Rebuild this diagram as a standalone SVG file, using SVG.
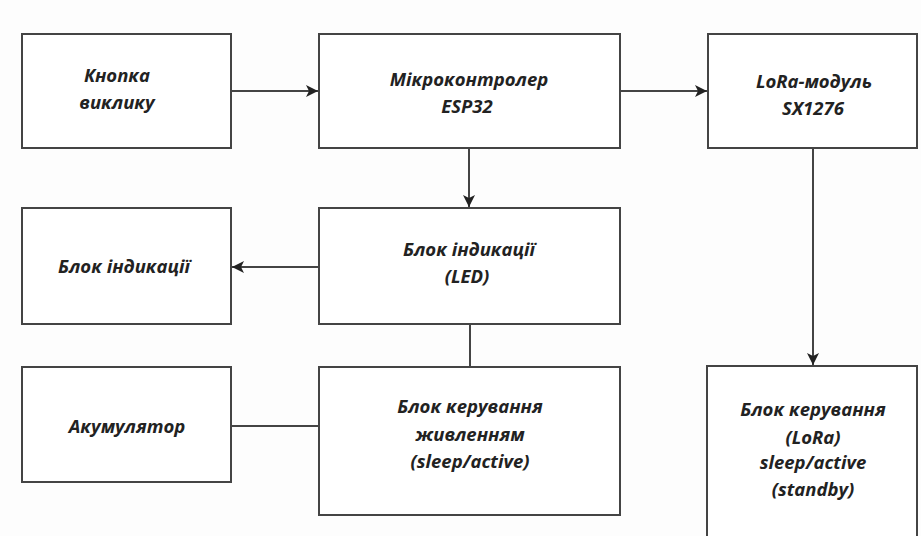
<svg xmlns="http://www.w3.org/2000/svg" width="921" height="536" viewBox="0 0 921 536">
<style>
.box{fill:#fff;stroke:#444;stroke-width:2}
.t{font-family:"Open Sans","Liberation Sans",sans-serif;font-weight:bold;font-style:italic;font-size:18.5px;fill:#222;text-anchor:middle}
.c{stroke:#444;stroke-width:2;fill:none}
</style>
<defs>
<marker id="ah" viewBox="0 0 12 12" refX="12" refY="6" markerWidth="12" markerHeight="12" markerUnits="userSpaceOnUse" orient="auto">
<path d="M0,0 L12,6 L0,12 L3,6 Z" fill="#222"/>
</marker>
</defs>
<rect width="921" height="536" fill="#fdfdfd"/>
<g id="connectors">
<line class="c" x1="231" y1="91" x2="318" y2="91" marker-end="url(#ah)"/>
<line class="c" x1="620" y1="91" x2="707" y2="91" marker-end="url(#ah)"/>
<line class="c" x1="469" y1="148" x2="469" y2="207" marker-end="url(#ah)"/>
<line class="c" x1="813" y1="148" x2="813" y2="365" marker-end="url(#ah)"/>
<line class="c" x1="319" y1="267" x2="232" y2="267" marker-end="url(#ah)"/>
<line class="c" x1="470" y1="324" x2="470" y2="367"/>
<line class="c" x1="231" y1="426" x2="319" y2="426"/>
</g>
<g id="knopka">
<rect class="box" x="22" y="34" width="209" height="114"/>
<text class="t" x="117" y="82">Кнопка</text>
<text class="t" x="117" y="109">виклику</text>
</g>
<g id="esp32">
<rect class="box" x="319" y="34" width="301" height="114"/>
<text class="t" x="469" y="86">Мікроконтролер</text>
<text class="t" x="467" y="113">ESP32</text>
</g>
<g id="lora">
<rect class="box" x="708" y="34" width="209" height="114"/>
<text class="t" x="814" y="88">LoRa-модуль</text>
<text class="t" x="813" y="115">SX1276</text>
</g>
<g id="indication">
<rect class="box" x="22" y="208" width="209" height="116"/>
<text class="t" x="124" y="273">Блок індикації</text>
</g>
<g id="led">
<rect class="box" x="319" y="208" width="301" height="116"/>
<text class="t" x="469" y="256">Блок індикації</text>
<text class="t" x="467" y="283">(LED)</text>
</g>
<g id="battery">
<rect class="box" x="22" y="367" width="209" height="115"/>
<text class="t" x="127" y="433">Акумулятор</text>
</g>
<g id="power">
<rect class="box" x="319" y="367" width="301" height="148"/>
<text class="t" x="470" y="413">Блок керування</text>
<text class="t" x="470" y="441">живленням</text>
<text class="t" x="470" y="468">(sleep/active)</text>
</g>
<g id="lora-control">
<rect class="box" x="707" y="366" width="210" height="180"/>
<text class="t" x="813" y="416">Блок керування</text>
<text class="t" x="813" y="444">(LoRa)</text>
<text class="t" x="813" y="469">sleep/active</text>
<text class="t" x="813" y="496">(standby)</text>
</g>
</svg>
